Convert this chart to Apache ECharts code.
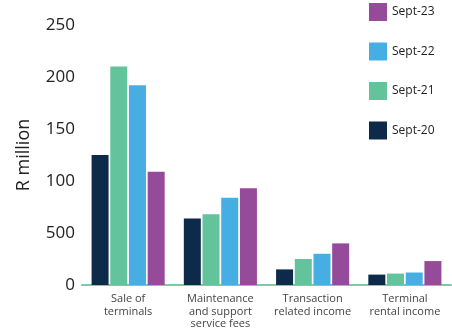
<!DOCTYPE html>
<html><head><meta charset="utf-8">
<script src="https://cdn.jsdelivr.net/npm/echarts@6/dist/echarts.min.js"></script>
<style>html,body{margin:0;padding:0;background:#fff}#c{width:452px;height:331px}</style>
</head><body><div id="c"></div>
<script>
const categories = ['Sale of\nterminals', 'Maintenance\nand support\nservice fees', 'Transaction\nrelated income', 'Terminal\nrental income'];
const seriesNames = ['Sept-20', 'Sept-21', 'Sept-22', 'Sept-23'];
const sept20 = [125, 64, 15, 10];
const sept21 = [210, 68, 25, 11];
const sept22 = [192, 84, 30, 12];
const sept23 = [109, 93, 40, 23];
const yTickValues = [0, 50, 100, 150, 200, 250];
const yTickLabels = ['0', '500', '100', '150', '200', '250'];
const colors = ['#0d2a4a', '#63c39a', '#47aee3', '#964a9a'];
const values = [sept20, sept21, sept22, sept23];

const chart = echarts.init(document.getElementById('c'));
chart.setOption({
  animation: false,
  grid: { left: 82, right: 1, top: 25, bottom: 46 },
  legend: {
    orient: 'vertical', left: 369, top: 3, padding: 0,
    itemWidth: 18, itemHeight: 18, itemGap: 21.5,
    icon: 'rect',
    data: ['Sept-23', 'Sept-22', 'Sept-21', 'Sept-20'],
    textStyle: { fontFamily: 'Open Sans', fontSize: 12, color: '#222' }
  },
  xAxis: {
    type: 'category', data: categories,
    axisLine: { lineStyle: { color: '#7dcaa6', width: 2 } },
    axisTick: { show: false },
    axisLabel: { fontFamily: 'Open Sans', fontSize: 11, lineHeight: 12.5, color: '#444', margin: 8, interval: 0 }
  },
  yAxis: {
    type: 'value', min: 0, max: 250, interval: 50,
    name: 'R million', nameLocation: 'middle', nameGap: 49, nameRotate: 90,
    nameTextStyle: { fontFamily: 'Open Sans', fontSize: 18, color: '#222' },
    splitLine: { show: false }, axisLine: { show: false }, axisTick: { show: false },
    axisLabel: {
      fontFamily: 'Open Sans', fontSize: 17, color: '#222', margin: 7,
      formatter: v => yTickLabels[yTickValues.indexOf(v)]
    }
  },
  series: seriesNames.map((n, i) => ({
    name: n, type: 'bar', data: values[i], barWidth: 17, barGap: '10%',
    itemStyle: { color: colors[i] }
  }))
});
</script></body></html>
